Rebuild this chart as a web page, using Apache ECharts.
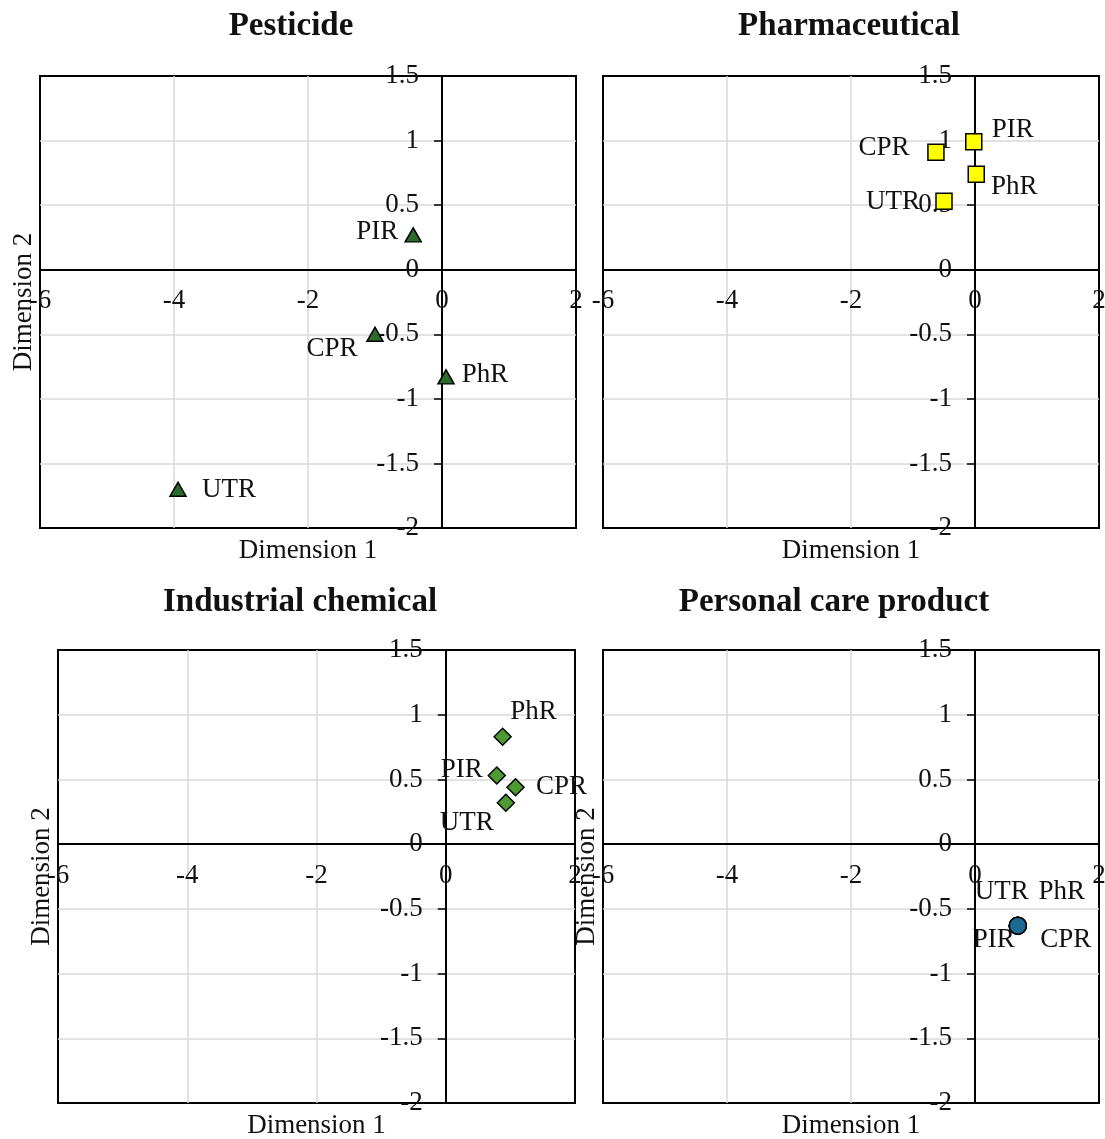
<!DOCTYPE html>
<html>
<head>
<meta charset="utf-8">
<script src="https://cdn.jsdelivr.net/npm/echarts@6/dist/echarts.min.js"></script>
<style>
html,body{margin:0;padding:0;background:#fff;}
#chart{width:1105px;height:1139px;}
</style>
</head>
<body>
<div id="chart"></div>
<script>
// ---- data ----
const categories = ['UTR', 'PIR', 'CPR', 'PhR'];
const panelTitles = ['Pesticide', 'Pharmaceutical', 'Industrial chemical', 'Personal care product'];
const xRange = [-6, 2];
const xStep = 2;
const yRange = [-2, 1.5];
const yStep = 0.5;
const xAxisName = 'Dimension 1';
const yAxisNames = ['Dimension 2', '', 'Dimension 2', 'Dimension 2'];

const pesticideX = [-3.94, -0.43, -1.00, 0.06];
const pesticideY = [-1.70, 0.27, -0.50, -0.83];
const pharmaceuticalX = [-0.50, -0.02, -0.63, 0.02];
const pharmaceuticalY = [0.53, 0.99, 0.91, 0.74];
const industrialX = [0.93, 0.79, 1.08, 0.88];
const industrialY = [0.32, 0.53, 0.44, 0.83];
const personalX = [0.69, 0.69, 0.69, 0.69];
const personalY = [-0.63, -0.63, -0.63, -0.63];

// ---- layout / style ----
const FONT = 'Liberation Serif';
const TEXT = '#111';
const grids = [
  {left: 40, top: 76, width: 536, height: 452},
  {left: 603, top: 76, width: 496, height: 452},
  {left: 58, top: 650, width: 517, height: 453},
  {left: 603, top: 650, width: 496, height: 453}
];
const titlePos = [[286, 5], [844, 5], [295, 581], [829, 581]];
const markers = [
  {symbol: 'triangle', size: [16, 14], color: '#2d6b2d'},
  {symbol: 'rect', size: 16, color: '#ffff00'},
  {symbol: 'diamond', size: [17, 17], color: '#4e9a32'},
  {symbol: 'circle', size: 17, color: '#1b6a94'}
];
// label offsets (text centre relative to marker centre), order as categories
const labelOffsets = [
  [[51, 1], [-36, -3], [-43, 15], [39, -2]],
  [[-51, 1], [39, -12], [-52, -4], [38, 13]],
  [[-39, 20], [-35, -6], [46, 0], [31, -25]],
  [[-16, -34], [-24, 14], [48, 14], [44, -34]]
];
const panelX = [pesticideX, pharmaceuticalX, industrialX, personalX];
const panelY = [pesticideY, pharmaceuticalY, industrialY, personalY];

const xAxes = [], yAxes = [], series = [], titles = [];
grids.forEach((g, i) => {
  const mainIdx = xAxes.length;
  xAxes.push({
    gridIndex: i, type: 'value', min: xRange[0], max: xRange[1], interval: xStep,
    position: 'bottom', offset: 0,
    axisLine: {show: true, onZero: false, lineStyle: {color: '#000', width: 2}},
    axisTick: {show: false},
    axisLabel: {margin: 18, fontSize: 27, fontFamily: FONT, color: TEXT, showMinLabel: true, showMaxLabel: true, hideOverlap: false},
    splitLine: {show: true, showMinLine: false, showMaxLine: false, lineStyle: {color: '#d9d9d9', width: 1.5}}
  });
  xAxes.push({
    gridIndex: i, type: 'value', min: xRange[0], max: xRange[1], interval: xStep,
    position: 'bottom', offset: 0,
    axisLine: {show: false, onZero: false}, axisTick: {show: false}, axisLabel: {show: false}, splitLine: {show: false},
    name: xAxisName, nameLocation: 'middle', nameGap: 9,
    nameTextStyle: {fontSize: 27, fontFamily: FONT, color: TEXT}
  });
  yAxes.push({
    gridIndex: i, type: 'value', min: yRange[0], max: yRange[1], interval: yStep,
    position: 'left', offset: 0,
    axisLine: {show: true, onZero: false, lineStyle: {color: '#000', width: 2}},
    axisTick: {show: true, inside: false, length: 8, lineStyle: {color: '#000', width: 1.5}},
    axisLabel: {margin: 23, fontSize: 27, fontFamily: FONT, color: TEXT, showMinLabel: true, showMaxLabel: true, hideOverlap: false},
    splitLine: {show: true, showMinLine: false, showMaxLine: false, lineStyle: {color: '#d9d9d9', width: 1.5}}
  });
  yAxes.push({
    gridIndex: i, type: 'value', min: yRange[0], max: yRange[1], interval: yStep,
    position: 'left', offset: 0,
    axisLine: {show: false, onZero: false}, axisTick: {show: false}, axisLabel: {show: false}, splitLine: {show: false},
    name: yAxisNames[i], nameLocation: 'middle', nameGap: 3,
    nameTextStyle: {fontSize: 27, fontFamily: FONT, color: TEXT}
  });
  const m = markers[i];
  series.push({
    type: 'scatter', xAxisIndex: mainIdx, yAxisIndex: mainIdx,
    symbol: m.symbol, symbolSize: m.size,
    itemStyle: {color: m.color, borderColor: '#000', borderWidth: 1.5, opacity: 1},
    label: {show: true, position: 'inside', formatter: '{b}', fontSize: 27, fontFamily: FONT,
            color: TEXT, textBorderWidth: 0},
    emphasis: {disabled: true},
    z: 5,
    data: categories.map((c, k) => ({
      name: c, value: [panelX[i][k], panelY[i][k]],
      label: {offset: labelOffsets[i][k]}
    }))
  });
  titles.push({
    text: panelTitles[i], left: titlePos[i][0], top: titlePos[i][1], textAlign: 'center',
    textStyle: {fontSize: 33, fontWeight: 'bold', fontFamily: FONT, color: TEXT}
  });
});

const chart = echarts.init(document.getElementById('chart'), null, {renderer: 'canvas'});
chart.setOption({
  backgroundColor: '#fff',
  animation: false,
  title: titles,
  grid: grids.map(g => Object.assign({show: true, borderColor: '#000', borderWidth: 2, backgroundColor: 'transparent',
    containLabel: false, outerBoundsMode: 'none'}, g)),
  xAxis: xAxes,
  yAxis: yAxes,
  series: series
});

// Move the main axes (line, ticks, labels) so they cross at the origin,
// using the library's own scale to find where 0 lies.
const xUpd = [], yUpd = [];
grids.forEach((g, i) => {
  const p = chart.convertToPixel({gridIndex: i}, [0, 0]);
  const r = chart.getModel().getComponent('grid', i).coordinateSystem.getRect();
  xUpd.push({offset: p[1] - (r.y + r.height)}, {});
  yUpd.push({offset: r.x - p[0]}, {});
});
chart.setOption({xAxis: xUpd, yAxis: yUpd});
</script>
</body>
</html>
